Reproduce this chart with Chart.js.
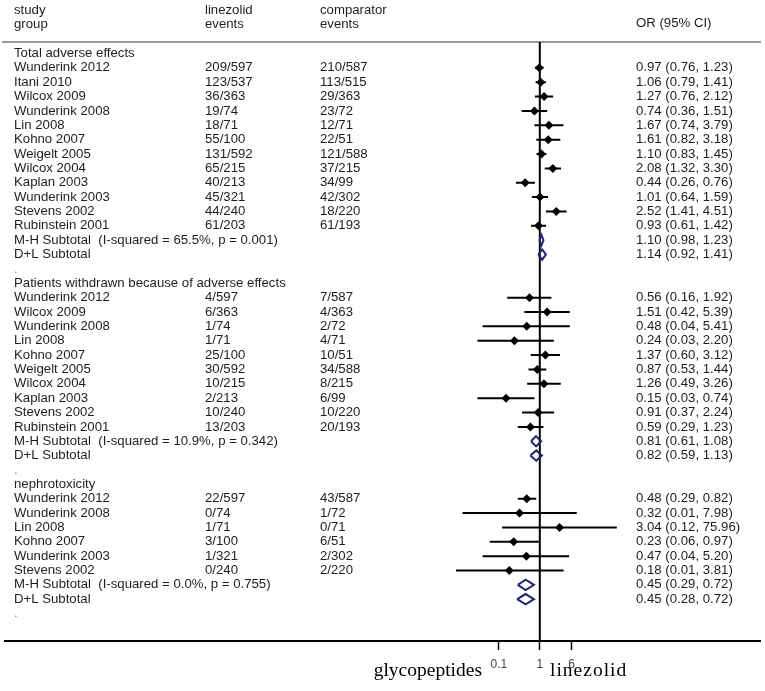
<!DOCTYPE html>
<html>
<head>
<meta charset="utf-8">
<script src="https://cdn.jsdelivr.net/npm/chart.js@4.4.1/dist/chart.umd.min.js"></script>
<style>
html, body { margin: 0; padding: 0; background: #fff; }
#wrap { width: 765px; height: 691px; }
</style>
</head>
<body>
<div id="wrap"><canvas id="forest" width="765" height="691"></canvas></div>
<script>
// data
var groupNames = ['Total adverse effects', 'Patients withdrawn because of adverse effects', 'nephrotoxicity'];

var studyNames = [
  'Wunderink 2012', 'Itani 2010', 'Wilcox 2009', 'Wunderink 2008', 'Lin 2008', 'Kohno 2007',
  'Weigelt 2005', 'Wilcox 2004', 'Kaplan 2003', 'Wunderink 2003', 'Stevens 2002', 'Rubinstein 2001',
  'Wunderink 2012', 'Wilcox 2009', 'Wunderink 2008', 'Lin 2008', 'Kohno 2007',
  'Weigelt 2005', 'Wilcox 2004', 'Kaplan 2003', 'Stevens 2002', 'Rubinstein 2001',
  'Wunderink 2012', 'Wunderink 2008', 'Lin 2008', 'Kohno 2007', 'Wunderink 2003', 'Stevens 2002'
];
var studyGroup = [0,0,0,0,0,0,0,0,0,0,0,0, 1,1,1,1,1,1,1,1,1,1, 2,2,2,2,2,2];
var linezolidEvents = [
  '209/597', '123/537', '36/363', '19/74', '18/71', '55/100', '131/592', '65/215', '40/213', '45/321', '44/240', '61/203',
  '4/597', '6/363', '1/74', '1/71', '25/100', '30/592', '10/215', '2/213', '10/240', '13/203',
  '22/597', '0/74', '1/71', '3/100', '1/321', '0/240'
];
var comparatorEvents = [
  '210/587', '113/515', '29/363', '23/72', '12/71', '22/51', '121/588', '37/215', '34/99', '42/302', '18/220', '61/193',
  '7/587', '4/363', '2/72', '4/71', '10/51', '34/588', '8/215', '6/99', '10/220', '20/193',
  '43/587', '1/72', '0/71', '6/51', '2/302', '2/220'
];
var oddsRatio = [0.97, 1.06, 1.27, 0.74, 1.67, 1.61, 1.10, 2.08, 0.44, 1.01, 2.52, 0.93,
  0.56, 1.51, 0.48, 0.24, 1.37, 0.87, 1.26, 0.15, 0.91, 0.59,
  0.48, 0.32, 3.04, 0.23, 0.47, 0.18];
var ciLow = [0.76, 0.79, 0.76, 0.36, 0.74, 0.82, 0.83, 1.32, 0.26, 0.64, 1.41, 0.61,
  0.16, 0.42, 0.04, 0.03, 0.60, 0.53, 0.49, 0.03, 0.37, 0.29,
  0.29, 0.013, 0.12, 0.06, 0.04, 0.009];
var ciHigh = [1.23, 1.41, 2.12, 1.51, 3.79, 3.18, 1.45, 3.30, 0.76, 1.59, 4.51, 1.42,
  1.92, 5.39, 5.41, 2.20, 3.12, 1.44, 3.26, 0.74, 2.24, 1.23,
  0.82, 7.98, 75.96, 0.97, 5.20, 3.81];

var mhHetero = ['I-squared = 65.5%, p = 0.001', 'I-squared = 10.9%, p = 0.342', 'I-squared = 0.0%, p = 0.755'];
var mhOR = [1.10, 0.81, 0.45];
var mhLow = [0.98, 0.61, 0.29];
var mhHigh = [1.23, 1.08, 0.72];
var dlOR = [1.14, 0.82, 0.45];
var dlLow = [0.92, 0.59, 0.28];
var dlHigh = [1.41, 1.13, 0.72];

var xTicks = [0.1, 1, 6];

// build the row list
var rows = [];
for (var g = 0; g < groupNames.length; g++) {
  rows.push({type: 'group', label: groupNames[g]});
  for (var i = 0; i < studyNames.length; i++) {
    if (studyGroup[i] != g) continue;
    rows.push({type: 'study', label: studyNames[i], lin: linezolidEvents[i], comp: comparatorEvents[i],
      or: oddsRatio[i], lo: ciLow[i], hi: ciHigh[i]});
  }
  rows.push({type: 'sub', label: 'M-H Subtotal  (' + mhHetero[g] + ')', or: mhOR[g], lo: mhLow[g], hi: mhHigh[g]});
  rows.push({type: 'sub', label: 'D+L Subtotal', or: dlOR[g], lo: dlLow[g], hi: dlHigh[g]});
  rows.push({type: 'gap', label: '.'});
}

var yMin = -0.8, yMax = 40.91;
var dh = 0.36; // half height of the subtotal diamonds, in rows

var ciData = [], markData = [], diaData = [];
rows.forEach(function(row, idx) {
  if (row.type == 'study') {
    ciData.push({x: row.lo, y: idx}, {x: row.hi, y: idx}, {x: row.or, y: null});
    markData.push({x: row.or, y: idx});
  } else if (row.type == 'sub') {
    diaData.push({x: row.lo, y: idx}, {x: row.or, y: idx - dh}, {x: row.hi, y: idx},
      {x: row.or, y: idx + dh}, {x: row.lo, y: idx}, {x: row.or, y: null});
  }
});

function fmt(v) { return v.toFixed(2); }

var textFont = '13.2px "Liberation Sans", Arial, sans-serif';
var textColor = '#1e1e1e';

var tablePlugin = {
  id: 'tableText',
  beforeDatasetsDraw: function(chart) {
    var ctx = chart.ctx, area = chart.chartArea;
    ctx.save();
    ctx.strokeStyle = '#999';
    ctx.lineWidth = 2;
    ctx.beginPath();
    ctx.moveTo(2, area.top);
    ctx.lineTo(761, area.top);
    ctx.stroke();
    ctx.restore();
  },
  afterDraw: function(chart) {
    var ctx = chart.ctx, ys = chart.scales.y;
    ctx.save();
    ctx.font = textFont;
    ctx.fillStyle = textColor;
    ctx.textBaseline = 'middle';
    ctx.textAlign = 'left';
    // header
    ctx.fillText('study', 14, 10);
    ctx.fillText('group', 14, 24);
    ctx.fillText('linezolid', 205, 10);
    ctx.fillText('events', 205, 24);
    ctx.fillText('comparator', 320, 10);
    ctx.fillText('events', 320, 24);
    ctx.fillText('OR (95% CI)', 636, 23);

    rows.forEach(function(row, idx) {
      var y = ys.getPixelForValue(idx);
      if (row.type == 'gap') {
        ctx.fillStyle = '#888';
        ctx.fillText(row.label, 14, y);
        ctx.fillStyle = textColor;
        return;
      }
      ctx.fillText(row.label, 14, y);
      if (row.type == 'study') {
        ctx.fillText(row.lin, 205, y);
        ctx.fillText(row.comp, 320, y);
      }
      if (row.type != 'group') {
        ctx.fillText(fmt(row.or) + ' (' + fmt(row.lo) + ', ' + fmt(row.hi) + ')', 636, y);
      }
    });

    // side labels under the axis
    ctx.font = '19.5px "Liberation Serif", "Times New Roman", serif';
    ctx.fillStyle = '#000';
    ctx.textBaseline = 'alphabetic';
    ctx.textAlign = 'right';
    ctx.fillText('glycopeptides', 482, 676);
    ctx.textAlign = 'left';
    ctx.letterSpacing = '1px';
    ctx.fillText('linezolid', 550, 676);
    ctx.restore();
  }
};

var ctx = document.getElementById('forest');
var forestChart = new Chart(ctx, {
  type: 'scatter',
  data: {
    datasets: [
      {
        label: 'OR',
        data: markData,
        pointStyle: 'rectRot',
        pointRadius: 4.5,
        backgroundColor: '#000',
        borderWidth: 0,
        order: 0
      },
      {
        label: 'CI',
        data: ciData,
        showLine: true,
        spanGaps: false,
        borderColor: '#000',
        borderWidth: 2,
        pointRadius: 0,
        order: 1
      },
      {
        label: 'Subtotal',
        data: diaData,
        showLine: true,
        spanGaps: false,
        borderColor: '#1c2580',
        borderWidth: 2,
        pointRadius: 0,
        order: 1
      },
      {
        label: 'no effect',
        data: [{x: 1, y: yMin}, {x: 1, y: yMax}],
        showLine: true,
        borderColor: '#000',
        borderWidth: 2,
        pointRadius: 0,
        order: 2
      }
    ]
  },
  options: {
    responsive: false,
    animation: false,
    layout: {padding: {left: 4, right: 4, top: 42, bottom: 12.6}},
    plugins: {
      legend: {display: false},
      tooltip: {enabled: false}
    },
    scales: {
      x: {
        type: 'logarithmic',
        min: Math.pow(10, -13.073),
        max: Math.pow(10, 5.39),
        afterBuildTicks: function(scale) {
          scale.ticks = xTicks.map(function(v) { return {value: v}; });
        },
        ticks: {
          autoSkip: false,
          maxRotation: 0,
          padding: 7,
          color: '#444',
          font: {family: '"Liberation Sans", Arial, sans-serif', size: 12},
          callback: function(v) { return String(v); }
        },
        grid: {
          drawOnChartArea: false,
          drawTicks: true,
          tickLength: 9,
          tickColor: '#000',
          tickWidth: 1.5
        },
        border: {display: true, color: '#000', width: 2}
      },
      y: {
        type: 'linear',
        display: false,
        reverse: true,
        min: yMin,
        max: yMax
      }
    }
  },
  plugins: [tablePlugin]
});
</script>
</body>
</html>
